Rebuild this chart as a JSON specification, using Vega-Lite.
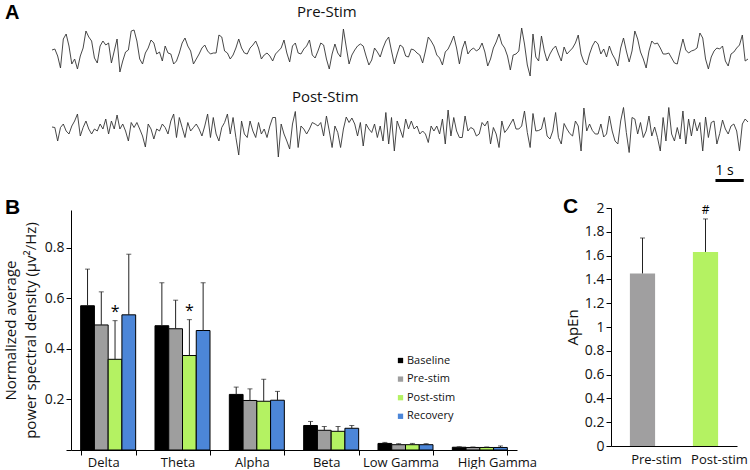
{
"$schema": "https://vega.github.io/schema/vega-lite/v6.json",
"padding": {"left": 3, "top": 3, "right": 0, "bottom": 0},
"background": "white",
"config": {
  "font": "Open Sans",
  "view": {"stroke": null},
  "axis": {"domainColor": "#000", "tickColor": "#000", "labelColor": "#111", "titleColor": "#111", "grid": false, "labelFont": "Open Sans", "titleFont": "Open Sans", "titleFontWeight": "normal"},
  "title": {"font": "Open Sans", "fontWeight": "normal", "color": "#111"}
},
"datasets": {
"pre": [{"t":0,"v":1},{"t":0.1,"v":2},{"t":0.2,"v":-5},{"t":0.3,"v":-17},{"t":0.4,"v":12},{"t":0.5,"v":17},{"t":0.6,"v":5},{"t":0.7,"v":-13},{"t":0.8,"v":-8},{"t":0.9,"v":-18},
{"t":1,"v":-5},{"t":1.1,"v":3},{"t":1.2,"v":20},{"t":1.3,"v":14},{"t":1.4,"v":10},{"t":1.5,"v":-7},{"t":1.6,"v":-12},{"t":1.7,"v":5},{"t":1.8,"v":10},{"t":1.9,"v":6},
{"t":2,"v":8},{"t":2.1,"v":-12},{"t":2.2,"v":0},{"t":2.3,"v":12},{"t":2.4,"v":-21},{"t":2.5,"v":-10},{"t":2.6,"v":-1},{"t":2.7,"v":1},{"t":2.8,"v":20},{"t":2.9,"v":21},
{"t":3,"v":10},{"t":3.1,"v":-8},{"t":3.2,"v":-13},{"t":3.3,"v":-2},{"t":3.4,"v":3},{"t":3.5,"v":11},{"t":3.6,"v":8},{"t":3.7,"v":-3},{"t":3.8,"v":-1},{"t":3.9,"v":-10},
{"t":4,"v":5},{"t":4.1,"v":-2},{"t":4.2,"v":-3},{"t":4.3,"v":-13},{"t":4.4,"v":-10},{"t":4.5,"v":-2},{"t":4.6,"v":8},{"t":4.7,"v":13},{"t":4.8,"v":5},{"t":4.9,"v":0},
{"t":5,"v":-13},{"t":5.1,"v":-8},{"t":5.2,"v":-3},{"t":5.3,"v":3},{"t":5.4,"v":6},{"t":5.5,"v":0},{"t":5.6,"v":-3},{"t":5.7,"v":-2},{"t":5.8,"v":-2},{"t":5.9,"v":16},
{"t":6,"v":14},{"t":6.1,"v":0},{"t":6.2,"v":-2},{"t":6.3,"v":-8},{"t":6.4,"v":-4},{"t":6.5,"v":3},{"t":6.6,"v":12},{"t":6.7,"v":3},{"t":6.8,"v":-2},{"t":6.9,"v":-3},
{"t":7,"v":3},{"t":7.1,"v":6},{"t":7.2,"v":10},{"t":7.3,"v":3},{"t":7.4,"v":-8},{"t":7.5,"v":-4},{"t":7.6,"v":-2},{"t":7.7,"v":-5},{"t":7.8,"v":-10},{"t":7.9,"v":-3},
{"t":8,"v":0},{"t":8.1,"v":3},{"t":8.2,"v":11},{"t":8.3,"v":-2},{"t":8.4,"v":-11},{"t":8.5,"v":5},{"t":8.6,"v":8},{"t":8.7,"v":-2},{"t":8.8,"v":-3},{"t":8.9,"v":2},
{"t":9,"v":5},{"t":9.1,"v":11},{"t":9.2,"v":-4},{"t":9.3,"v":-7},{"t":9.4,"v":0},{"t":9.5,"v":8},{"t":9.6,"v":6},{"t":9.7,"v":-8},{"t":9.8,"v":-18},{"t":9.9,"v":-3},
{"t":10,"v":7},{"t":10.1,"v":-2},{"t":10.2,"v":-6},{"t":10.3,"v":22},{"t":10.4,"v":4},{"t":10.5,"v":-13},{"t":10.6,"v":-4},{"t":10.7,"v":1},{"t":10.8,"v":5},{"t":10.9,"v":7},
{"t":11,"v":5},{"t":11.1,"v":-5},{"t":11.2,"v":-14},{"t":11.3,"v":-9},{"t":11.4,"v":3},{"t":11.5,"v":-1},{"t":11.6,"v":-6},{"t":11.7,"v":3},{"t":11.8,"v":10},{"t":11.9,"v":14},
{"t":12,"v":0},{"t":12.1,"v":-13},{"t":12.2,"v":-3},{"t":12.3,"v":6},{"t":12.4,"v":4},{"t":12.5,"v":-5},{"t":12.6,"v":-6},{"t":12.7,"v":2},{"t":12.8,"v":1},{"t":12.9,"v":-2},
{"t":13,"v":-4},{"t":13.1,"v":-12},{"t":13.2,"v":0},{"t":13.3,"v":14},{"t":13.4,"v":10},{"t":13.5,"v":5},{"t":13.6,"v":-4},{"t":13.7,"v":-7},{"t":13.8,"v":-14},{"t":13.9,"v":-1},
{"t":14,"v":2},{"t":14.1,"v":8},{"t":14.2,"v":15},{"t":14.3,"v":3},{"t":14.4,"v":-13},{"t":14.5,"v":2},{"t":14.6,"v":10},{"t":14.7,"v":-3},{"t":14.8,"v":1},{"t":14.9,"v":3},
{"t":15,"v":0},{"t":15.1,"v":2},{"t":15.2,"v":8},{"t":15.3,"v":-1},{"t":15.4,"v":-15},{"t":15.5,"v":-8},{"t":15.6,"v":3},{"t":15.7,"v":9},{"t":15.8,"v":17},{"t":15.9,"v":7},
{"t":16,"v":3},{"t":16.1,"v":-5},{"t":16.2,"v":-19},{"t":16.3,"v":-4},{"t":16.4,"v":-3},{"t":16.5,"v":0},{"t":16.6,"v":23},{"t":16.7,"v":7},{"t":16.8,"v":-14},{"t":16.9,"v":-25},
{"t":17,"v":17},{"t":17.1,"v":-6},{"t":17.2,"v":-10},{"t":17.3,"v":15},{"t":17.4,"v":0},{"t":17.5,"v":-10},{"t":17.6,"v":-3},{"t":17.7,"v":2},{"t":17.8,"v":5},{"t":17.9,"v":-3},
{"t":18,"v":-10},{"t":18.1,"v":4},{"t":18.2,"v":-3},{"t":18.3,"v":0},{"t":18.4,"v":3},{"t":18.5,"v":8},{"t":18.6,"v":16},{"t":18.7,"v":-3},{"t":18.8,"v":-11},{"t":18.9,"v":-14},
{"t":19,"v":-3},{"t":19.1,"v":5},{"t":19.2,"v":10},{"t":19.3,"v":7},{"t":19.4,"v":-3},{"t":19.5,"v":2},{"t":19.6,"v":-6},{"t":19.7,"v":5},{"t":19.8,"v":-3},{"t":19.9,"v":-8},
{"t":20,"v":-15},{"t":20.1,"v":3},{"t":20.2,"v":13},{"t":20.3,"v":0},{"t":20.4,"v":-11},{"t":20.5,"v":0},{"t":20.6,"v":20},{"t":20.7,"v":12},{"t":20.8,"v":-1},{"t":20.9,"v":-8},
{"t":21,"v":-17},{"t":21.1,"v":0},{"t":21.2,"v":10},{"t":21.3,"v":7},{"t":21.4,"v":8},{"t":21.5,"v":3},{"t":21.6,"v":-3},{"t":21.7,"v":-3},{"t":21.8,"v":-2},{"t":21.9,"v":-7},
{"t":22,"v":-12},{"t":22.1,"v":-13},{"t":22.2,"v":0},{"t":22.3,"v":12},{"t":22.4,"v":1},{"t":22.5,"v":-2},{"t":22.6,"v":0},{"t":22.7,"v":1},{"t":22.8,"v":3},{"t":22.9,"v":18},
{"t":23,"v":13},{"t":23.1,"v":-8},{"t":23.2,"v":-18},{"t":23.3,"v":-6},{"t":23.4,"v":0},{"t":23.5,"v":3},{"t":23.6,"v":2},{"t":23.7,"v":5},{"t":23.8,"v":-10},{"t":23.9,"v":-15},
{"t":24,"v":-3},{"t":24.1,"v":-1},{"t":24.2,"v":3},{"t":24.3,"v":6},{"t":24.4,"v":16},{"t":24.5,"v":-10},{"t":24.6,"v":-8}],
"post": [{"t":0,"v":3},{"t":0.1,"v":2.5},{"t":0.2,"v":-11},{"t":0.3,"v":2.5},{"t":0.4,"v":6},{"t":0.5,"v":-1},{"t":0.6,"v":-4},{"t":0.7,"v":4},{"t":0.8,"v":9},{"t":0.9,"v":16},
{"t":1,"v":-6},{"t":1.1,"v":2.5},{"t":1.2,"v":9},{"t":1.3,"v":1},{"t":1.4,"v":-4},{"t":1.5,"v":1},{"t":1.6,"v":-1},{"t":1.7,"v":6},{"t":1.8,"v":1},{"t":1.9,"v":11},
{"t":2,"v":-4},{"t":2.1,"v":9},{"t":2.2,"v":1},{"t":2.3,"v":15},{"t":2.4,"v":1},{"t":2.5,"v":6},{"t":2.6,"v":-1},{"t":2.7,"v":-11},{"t":2.8,"v":7.5},{"t":2.9,"v":2.5},
{"t":3,"v":7.5},{"t":3.1,"v":1},{"t":3.2,"v":-6},{"t":3.3,"v":-17},{"t":3.4,"v":6},{"t":3.5,"v":1},{"t":3.6,"v":-9},{"t":3.7,"v":1},{"t":3.8,"v":-1},{"t":3.9,"v":6},
{"t":4,"v":2.5},{"t":4.1,"v":-4},{"t":4.2,"v":9},{"t":4.3,"v":16},{"t":4.4,"v":-7.5},{"t":4.5,"v":12.5},{"t":4.6,"v":2.5},{"t":4.7,"v":-7.5},{"t":4.8,"v":7.5},{"t":4.9,"v":-1},
{"t":5,"v":2.5},{"t":5.1,"v":6},{"t":5.2,"v":1},{"t":5.3,"v":-6},{"t":5.4,"v":4},{"t":5.5,"v":16},{"t":5.6,"v":-7.5},{"t":5.7,"v":12.5},{"t":5.8,"v":-4},{"t":5.9,"v":-11},
{"t":6,"v":2.5},{"t":6.1,"v":7.5},{"t":6.2,"v":16},{"t":6.3,"v":-4},{"t":6.4,"v":12.5},{"t":6.5,"v":-7.5},{"t":6.6,"v":-25},{"t":6.7,"v":9},{"t":6.8,"v":-4},{"t":6.9,"v":-7.5},
{"t":7,"v":9},{"t":7.1,"v":-1},{"t":7.2,"v":-7.5},{"t":7.3,"v":7.5},{"t":7.4,"v":-4},{"t":7.5,"v":1},{"t":7.6,"v":-7.5},{"t":7.7,"v":4},{"t":7.8,"v":12.5},{"t":7.9,"v":12.5},
{"t":8,"v":-27},{"t":8.1,"v":6},{"t":8.2,"v":-4},{"t":8.3,"v":-11},{"t":8.4,"v":-19},{"t":8.5,"v":6},{"t":8.6,"v":18.5},{"t":8.7,"v":-17.5},{"t":8.8,"v":4},{"t":8.9,"v":1},
{"t":9,"v":-4},{"t":9.1,"v":1},{"t":9.2,"v":7.5},{"t":9.3,"v":6},{"t":9.4,"v":4},{"t":9.5,"v":7.5},{"t":9.6,"v":-6},{"t":9.7,"v":14},{"t":9.8,"v":-1},{"t":9.9,"v":-17.5},
{"t":10,"v":4},{"t":10.1,"v":-2.5},{"t":10.2,"v":-17.5},{"t":10.3,"v":1},{"t":10.4,"v":13},{"t":10.5,"v":7.5},{"t":10.6,"v":12},{"t":10.7,"v":6},{"t":10.8,"v":-6},{"t":10.9,"v":7.5},
{"t":11,"v":-16},{"t":11.1,"v":6},{"t":11.2,"v":1},{"t":11.3,"v":-2.5},{"t":11.4,"v":6},{"t":11.5,"v":-7.5},{"t":11.6,"v":4},{"t":11.7,"v":-11},{"t":11.8,"v":17.5},{"t":11.9,"v":-14},
{"t":12,"v":12.5},{"t":12.1,"v":-21},{"t":12.2,"v":9},{"t":12.3,"v":1},{"t":12.4,"v":-7.5},{"t":12.5,"v":11},{"t":12.6,"v":1},{"t":12.7,"v":9},{"t":12.8,"v":1},{"t":12.9,"v":4},
{"t":13,"v":-4},{"t":13.1,"v":-1},{"t":13.2,"v":-4},{"t":13.3,"v":-12.5},{"t":13.4,"v":4},{"t":13.5,"v":-1},{"t":13.6,"v":4},{"t":13.7,"v":-4},{"t":13.8,"v":11},{"t":13.9,"v":-14},
{"t":14,"v":20},{"t":14.1,"v":-6},{"t":14.2,"v":12.5},{"t":14.3,"v":-1},{"t":14.4,"v":-7.5},{"t":14.5,"v":-7.5},{"t":14.6,"v":14},{"t":14.7,"v":-1},{"t":14.8,"v":2.5},{"t":14.9,"v":1},
{"t":15,"v":-6},{"t":15.1,"v":-4},{"t":15.2,"v":7.5},{"t":15.3,"v":4},{"t":15.4,"v":9},{"t":15.5,"v":-14},{"t":15.6,"v":2.5},{"t":15.7,"v":-4},{"t":15.8,"v":-17.5},{"t":15.9,"v":9},
{"t":16,"v":-2.5},{"t":16.1,"v":1},{"t":16.2,"v":6},{"t":16.3,"v":11},{"t":16.4,"v":1},{"t":16.5,"v":1},{"t":16.6,"v":4},{"t":16.7,"v":19},{"t":16.8,"v":-2.5},{"t":16.9,"v":-17.5},
{"t":17,"v":16.5},{"t":17.1,"v":-1},{"t":17.2,"v":-0.5},{"t":17.3,"v":1},{"t":17.4,"v":12.5},{"t":17.5,"v":-6},{"t":17.6,"v":-9},{"t":17.7,"v":-1},{"t":17.8,"v":17.5},{"t":17.9,"v":-7.5},
{"t":18,"v":-14},{"t":18.1,"v":6.5},{"t":18.2,"v":1},{"t":18.3,"v":-3.5},{"t":18.4,"v":-6},{"t":18.5,"v":9},{"t":18.6,"v":4},{"t":18.7,"v":-21},{"t":18.8,"v":22},{"t":18.9,"v":-1},
{"t":19,"v":6},{"t":19.1,"v":-0.5},{"t":19.2,"v":-4},{"t":19.3,"v":-4},{"t":19.4,"v":6},{"t":19.5,"v":-7},{"t":19.6,"v":-4},{"t":19.7,"v":14},{"t":19.8,"v":-1},{"t":19.9,"v":-11},
{"t":20,"v":-14},{"t":20.1,"v":9},{"t":20.2,"v":22.5},{"t":20.3,"v":-2.5},{"t":20.4,"v":-22.5},{"t":20.5,"v":12.5},{"t":20.6,"v":11},{"t":20.7,"v":-4},{"t":20.8,"v":7.5},{"t":20.9,"v":-7.5},
{"t":21,"v":-1},{"t":21.1,"v":14},{"t":21.2,"v":-6},{"t":21.3,"v":3},{"t":21.4,"v":-7.5},{"t":21.5,"v":-21},{"t":21.6,"v":12.5},{"t":21.7,"v":-11},{"t":21.8,"v":22.5},{"t":21.9,"v":-4},
{"t":22,"v":-11},{"t":22.1,"v":2.5},{"t":22.2,"v":-9},{"t":22.3,"v":19},{"t":22.4,"v":-14},{"t":22.5,"v":11},{"t":22.6,"v":-6},{"t":22.7,"v":11},{"t":22.8,"v":-1},{"t":22.9,"v":7.5},
{"t":23,"v":-21},{"t":23.1,"v":13},{"t":23.2,"v":-7.5},{"t":23.3,"v":7.5},{"t":23.4,"v":9},{"t":23.5,"v":-14},{"t":23.6,"v":-3.5},{"t":23.7,"v":10},{"t":23.8,"v":1},{"t":23.9,"v":-4},
{"t":24,"v":4},{"t":24.1,"v":6},{"t":24.2,"v":-1},{"t":24.3,"v":-21},{"t":24.4,"v":6},{"t":24.5,"v":11},{"t":24.6,"v":8}],
"psd": [
{"band":"Delta","cond":"Baseline","mean":0.571,"upper":0.716,"sig":""},
{"band":"Delta","cond":"Pre-stim","mean":0.495,"upper":0.626,"sig":""},
{"band":"Delta","cond":"Post-stim","mean":0.359,"upper":0.512,"sig":"*"},
{"band":"Delta","cond":"Recovery","mean":0.535,"upper":0.775,"sig":""},
{"band":"Theta","cond":"Baseline","mean":0.492,"upper":0.662,"sig":""},
{"band":"Theta","cond":"Pre-stim","mean":0.48,"upper":0.593,"sig":""},
{"band":"Theta","cond":"Post-stim","mean":0.374,"upper":0.516,"sig":"*"},
{"band":"Theta","cond":"Recovery","mean":0.473,"upper":0.662,"sig":""},
{"band":"Alpha","cond":"Baseline","mean":0.22,"upper":0.249,"sig":""},
{"band":"Alpha","cond":"Pre-stim","mean":0.196,"upper":0.242,"sig":""},
{"band":"Alpha","cond":"Post-stim","mean":0.193,"upper":0.28,"sig":""},
{"band":"Alpha","cond":"Recovery","mean":0.197,"upper":0.232,"sig":""},
{"band":"Beta","cond":"Baseline","mean":0.097,"upper":0.113,"sig":""},
{"band":"Beta","cond":"Pre-stim","mean":0.078,"upper":0.093,"sig":""},
{"band":"Beta","cond":"Post-stim","mean":0.074,"upper":0.093,"sig":""},
{"band":"Beta","cond":"Recovery","mean":0.086,"upper":0.097,"sig":""},
{"band":"Low Gamma","cond":"Baseline","mean":0.026,"upper":0.03,"sig":""},
{"band":"Low Gamma","cond":"Pre-stim","mean":0.021,"upper":0.025,"sig":""},
{"band":"Low Gamma","cond":"Post-stim","mean":0.021,"upper":0.026,"sig":""},
{"band":"Low Gamma","cond":"Recovery","mean":0.021,"upper":0.025,"sig":""},
{"band":"High Gamma","cond":"Baseline","mean":0.011,"upper":0.013,"sig":""},
{"band":"High Gamma","cond":"Pre-stim","mean":0.01,"upper":0.012,"sig":""},
{"band":"High Gamma","cond":"Post-stim","mean":0.01,"upper":0.012,"sig":""},
{"band":"High Gamma","cond":"Recovery","mean":0.01,"upper":0.016,"sig":""}
],
"apen": [
{"phase":"Pre-stim","mean":1.45,"upper":1.748,"sig":""},
{"phase":"Post-stim","mean":1.631,"upper":1.908,"sig":"#"}
]
},
"bounds": "flush",
"spacing": 50,
"vconcat": [
{
  "width": 677, "height": 134,
  "title": {"text": "A", "anchor": "start", "frame": "group", "font": "Liberation Sans", "fontSize": 20, "fontWeight": "bold", "color": "#000", "dx": -66, "dy": 22},
  "resolve": {"scale": {"y": "independent"}},
  "layer": [
    {
      "layer": [
        {
          "data": {"name": "pre"},
          "mark": {"type": "line", "color": "#333", "strokeWidth": 0.9, "strokeJoin": "round"},
          "encoding": {
            "x": {"field": "t", "type": "quantitative", "axis": null, "scale": {"domain": [0, 24.6], "range": [-19, 677], "nice": false, "zero": false}},
            "y": {"field": "v", "type": "quantitative", "axis": null, "scale": {"domain": [-28, 27], "range": [55, 0], "nice": false, "zero": false}}
          }
        },
        {
          "data": {"values": [{}]},
          "mark": {"type": "text", "text": "Pre-Stim", "align": "left", "baseline": "alphabetic", "fontSize": 15, "color": "#111"},
          "encoding": {
            "x": {"datum": 8.66, "type": "quantitative"},
            "y": {"datum": 34, "type": "quantitative"}
          }
        }
      ]
    },
    {
      "layer": [
        {
          "data": {"name": "post"},
          "mark": {"type": "line", "color": "#333", "strokeWidth": 0.9, "strokeJoin": "round"},
          "encoding": {
            "x": {"field": "t", "type": "quantitative", "axis": null, "scale": {"domain": [0, 24.6], "range": [-19, 677], "nice": false, "zero": false}},
            "y": {"field": "v", "type": "quantitative", "axis": null, "scale": {"domain": [-28, 27], "range": [134, 79], "nice": false, "zero": false}}
          }
        },
        {
          "data": {"values": [{}]},
          "mark": {"type": "text", "text": "Post-Stim", "align": "left", "baseline": "alphabetic", "fontSize": 15, "color": "#111"},
          "encoding": {
            "x": {"datum": 8.48, "type": "quantitative"},
            "y": {"datum": 28, "type": "quantitative"}
          }
        },
        {
          "data": {"values": [{}]},
          "mark": {"type": "rule", "strokeWidth": 3, "color": "#000"},
          "encoding": {
            "x": {"datum": 23.45, "type": "quantitative"},
            "x2": {"datum": 24.45},
            "y": {"datum": -50.5, "type": "quantitative"}
          }
        },
        {
          "data": {"values": [{}]},
          "mark": {"type": "text", "text": "1 s", "align": "left", "baseline": "middle", "fontSize": 14, "color": "#000"},
          "encoding": {
            "x": {"datum": 23.45, "type": "quantitative"},
            "y": {"datum": -40.5, "type": "quantitative"}
          }
        }
      ]
    }
  ]
},
{
  "bounds": "flush",
  "spacing": 94,
  "resolve": {"scale": {"color": "independent"}, "legend": {"color": "independent"}},
  "hconcat": [
    {
      "width": 446, "height": 242,
      "title": {"text": "B", "anchor": "start", "frame": "group", "font": "Liberation Sans", "fontSize": 21, "fontWeight": "bold", "color": "#000", "dx": -66, "dy": 14},
      "data": {"name": "psd"},
      "encoding": {
        "x": {"field": "band", "type": "nominal", "sort": ["Delta","Theta","Alpha","Beta","Low Gamma","High Gamma"], "scale": {"paddingInner": 0.26, "paddingOuter": 0.13}, "axis": {"title": null, "labelAngle": 0, "tickBand": "extent", "tickSize": 5, "labelFontSize": 13, "labelPadding": 1, "labelOverlap": false, "labelOffset": {"condition": {"test": "datum.value == 'High Gamma'", "value": 17}, "value": -5}}},
        "xOffset": {"field": "cond", "type": "nominal", "sort": ["Baseline","Pre-stim","Post-stim","Recovery"], "scale": {"paddingInner": 0, "paddingOuter": 0}},
        "y": {"field": "mean", "type": "quantitative", "scale": {"domain": [0, 0.95], "range": [242, 2], "nice": false}, "axis": {"values": [0, 0.2, 0.4, 0.6, 0.8], "labelExpr": "datum.value == 0 ? '' : format(datum.value, '.1f')", "title": ["Normalized average", "power spectral density (µv²/Hz)"], "titleFontSize": 15, "titleLineHeight": 20, "titlePadding": 6, "labelFontSize": 14, "tickSize": 5, "labelPadding": 2}}
      },
      "layer": [
        {
          "mark": {"type": "bar", "stroke": "#000", "strokeWidth": 1},
          "encoding": {
            "color": {"field": "cond", "type": "nominal", "sort": ["Baseline","Pre-stim","Post-stim","Recovery"], "scale": {"domain": ["Baseline","Pre-stim","Post-stim","Recovery"], "range": ["#000000", "#9e9e9e", "#b4f262", "#4c86d8"]}, "legend": {"title": null, "orient": "none", "legendX": 324, "legendY": 147, "symbolType": "square", "symbolSize": 28, "symbolStrokeWidth": 0, "labelFontSize": 11, "rowPadding": 6.6, "labelOffset": 1, "labelColor": "#111"}}
          }
        },
        {
          "mark": {"type": "rule", "color": "#222", "strokeWidth": 1},
          "encoding": {"y2": {"field": "upper"}}
        },
        {
          "mark": {"type": "tick", "color": "#222", "size": 5, "thickness": 1, "orient": "horizontal"},
          "encoding": {"y": {"field": "upper", "type": "quantitative"}}
        },
        {
          "mark": {"type": "text", "fontSize": 16, "dy": -9, "color": "#000"},
          "encoding": {"y": {"field": "upper", "type": "quantitative"}, "text": {"field": "sig"}}
        }
      ]
    },
    {
      "width": 126, "height": 238,
      "title": {"text": "C", "anchor": "start", "frame": "group", "font": "Liberation Sans", "fontSize": 21, "fontWeight": "bold", "color": "#000", "dx": -48, "dy": 20},
      "data": {"name": "apen"},
      "encoding": {
        "x": {"field": "phase", "type": "nominal", "sort": ["Pre-stim","Post-stim"], "scale": {"paddingInner": 0, "paddingOuter": 0}, "axis": {"title": null, "labelAngle": 0, "ticks": false, "labelFontSize": 13, "labelOffset": 14, "labelPadding": 7}},
        "y": {"field": "mean", "type": "quantitative", "scale": {"domain": [0, 2], "nice": false}, "axis": {"values": [0, 0.2, 0.4, 0.6, 0.8, 1, 1.2, 1.4, 1.6, 1.8, 2], "format": "~g", "title": "ApEn", "titleFontSize": 15, "labelFontSize": 14, "tickSize": 5, "titlePadding": 4, "labelPadding": 2}}
      },
      "layer": [
        {
          "mark": {"type": "bar", "width": {"band": 0.4}},
          "encoding": {"color": {"field": "phase", "type": "nominal", "scale": {"domain": ["Pre-stim","Post-stim"], "range": ["#a09fa0", "#b4f262"]}, "legend": null}}
        },
        {
          "mark": {"type": "rule", "color": "#222", "strokeWidth": 1},
          "encoding": {"y2": {"field": "upper"}}
        },
        {
          "mark": {"type": "tick", "color": "#222", "size": 5, "thickness": 1, "orient": "horizontal"},
          "encoding": {"y": {"field": "upper", "type": "quantitative"}}
        },
        {
          "mark": {"type": "text", "fontSize": 12, "dy": -9, "color": "#000"},
          "encoding": {"y": {"field": "upper", "type": "quantitative"}, "text": {"field": "sig"}}
        }
      ]
    }
  ]
}
]
}
